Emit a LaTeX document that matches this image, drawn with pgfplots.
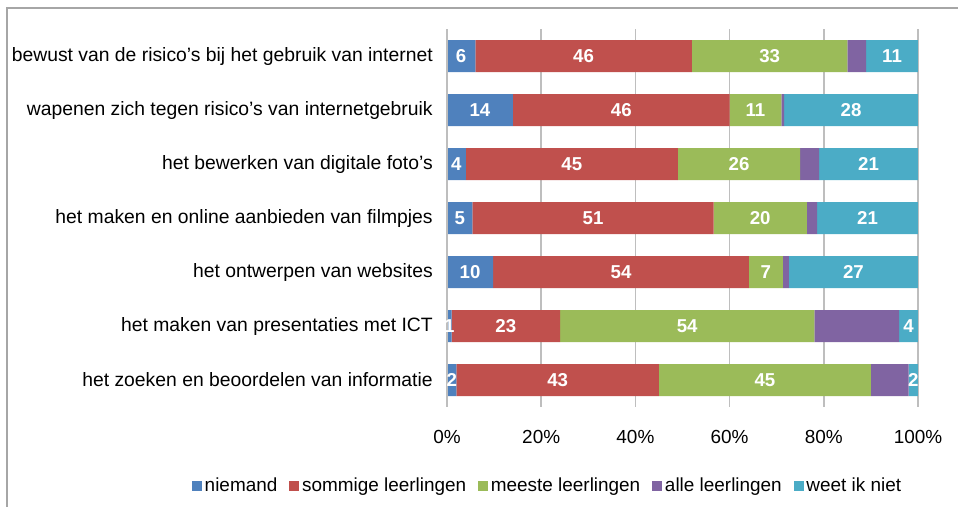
\documentclass[border=0pt]{standalone}
\usepackage{pgfplots}
\pgfplotsset{compat=1.18}
\usepackage{pgfplotstable}
\usepackage{fontspec}
\setmainfont{Liberation Sans}
\definecolor{cA}{HTML}{4F81BD}
\definecolor{cB}{HTML}{C0504D}
\definecolor{cC}{HTML}{9BBB59}
\definecolor{cD}{HTML}{8064A2}
\definecolor{cE}{HTML}{4BACC6}
\definecolor{gridc}{HTML}{BEBEBE}
\definecolor{framec}{HTML}{A6A6A6}

\pgfplotstableread{
cat a b c d e
0 6 46 33 4 11
1 14 46 11 0.6 28.4
2 4 45 26 4 21
3 5.4 51.2 19.8 2.2 21.4
4 9.8 54.3 7.2 1.3 27.4
5 1 23 54 18 4
6 2 43 45 8 2
}\datatable

\begin{document}
\begin{tikzpicture}
\path[use as bounding box] (0,0) rectangle (718.5pt,380.25pt);
\draw[framec, line width=1.1pt] (5.25pt,0) -- (5.25pt,374.25pt) -- (720pt,374.25pt);
\begin{axis}[
  at={(335.25pt,75pt)}, anchor=south west,
  scale only axis, width=353.25pt, height=283.5pt,
  xbar stacked, bar width=24pt,
  xmin=0, xmax=100, ymin=-0.5, ymax=6.5,
  y dir=reverse,
  axis line style={draw=none},
  major tick length=0pt,
  xtick={0,20,40,60,80,100},
  xticklabels={0\%,20\%,40\%,60\%,80\%,100\%},
  xmajorgrids, grid style={gridc, line width=1.1pt},
  ytick={0,1,2,3,4,5,6},
  yticklabels={bewust van de risico’s bij het gebruik van internet,
    wapenen zich tegen risico’s van internetgebruik,
    het bewerken van digitale foto’s,
    het maken en online aanbieden van filmpjes,
    het ontwerpen van websites,
    het maken van presentaties met ICT,
    het zoeken en beoordelen van informatie},
  yticklabel style={inner sep=0pt, anchor=east, xshift=-10.5pt, font=\fontsize{14.5}{17}\selectfont},
  xticklabel style={inner sep=0pt, anchor=center, yshift=-22.5pt, font=\fontsize{14.2}{17}\selectfont},
  /pgf/number format/assume math mode=true,
  legend columns=-1,
  legend style={at={(0.2144,-0.209)}, anchor=center, draw=none, fill=none,
    font=\fontsize{14.2}{16}\selectfont, inner sep=0pt,
    /tikz/every even column/.append style={column sep=7pt}},
  legend image code/.code={\fill[#1,draw=none] (0pt,-3.75pt) rectangle (7.5pt,3.75pt);},
  nodes near coords style={anchor=center, text=white,
    font=\bfseries\fontsize{14}{16}\selectfont, inner sep=0pt},
  clip=false,
]
\draw[gridc, line width=1.1pt] (axis cs:0,-0.5) -- (axis cs:0,6.5);
\addplot[fill=cA, draw=none, visualization depends on={\thisrow{a} \as \rawval},
  nodes near coords={\pgfmathprintnumber[fixed,precision=0]{\rawval}}]
  table[x=a,y=cat] \datatable;
\addplot[fill=cB, draw=none, visualization depends on={\thisrow{b} \as \rawval},
  nodes near coords={\pgfmathprintnumber[fixed,precision=0]{\rawval}}]
  table[x=b,y=cat] \datatable;
\addplot[fill=cC, draw=none, visualization depends on={\thisrow{c} \as \rawval},
  nodes near coords={\pgfmathprintnumber[fixed,precision=0]{\rawval}}]
  table[x=c,y=cat] \datatable;
\addplot[fill=cD, draw=none]
  table[x=d,y=cat] \datatable;
\addplot[fill=cE, draw=none, visualization depends on={\thisrow{e} \as \rawval},
  nodes near coords={\pgfmathprintnumber[fixed,precision=0]{\rawval}}]
  table[x=e,y=cat] \datatable;
\legend{niemand,sommige leerlingen,meeste leerlingen,alle leerlingen,weet ik niet}
\end{axis}
\end{tikzpicture}
\end{document}
